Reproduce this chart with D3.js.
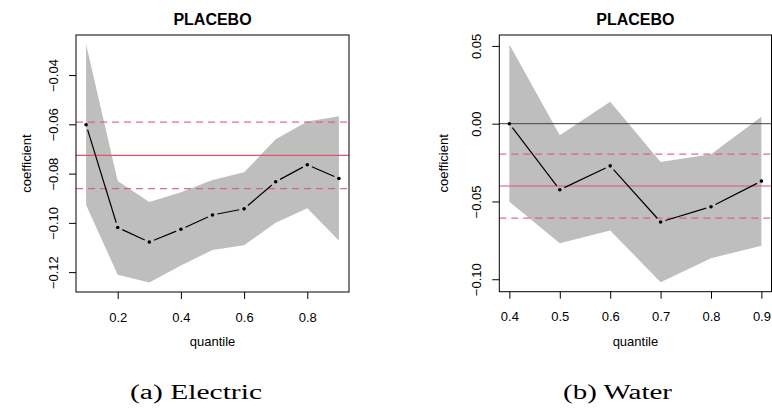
<!DOCTYPE html>
<html lang="en">
<head>
<meta charset="utf-8">
<title>Placebo quantile plots</title>
<script src="https://cdn.jsdelivr.net/npm/d3@7"></script>
<style>
  body { margin: 0; background: #fff; }
  svg text { font-family: "Liberation Sans", Arial, sans-serif; }
</style>
</head>
<body>
<script>
// electric panel
var elecQ = [0.1, 0.2, 0.3, 0.4, 0.5, 0.6, 0.7, 0.8, 0.9];
var elecCoef = [-0.0602, -0.1019, -0.1078, -0.1026, -0.0968, -0.0943, -0.0833, -0.0764, -0.0820];
var elecUpper = [-0.0276, -0.0830, -0.0915, -0.0876, -0.0826, -0.0795, -0.0661, -0.0589, -0.0567];
var elecLower = [-0.0927, -0.1211, -0.1242, -0.1173, -0.1110, -0.1091, -0.1000, -0.0941, -0.1072];
var elecMean = [-0.0726];
var elecBand = [-0.0591, -0.0861];
var elecXTicks = [0.2, 0.4, 0.6, 0.8];
var elecYTicks = [-0.04, -0.06, -0.08, -0.10, -0.12];

// water panel
var waterQ = [0.4, 0.5, 0.6, 0.7, 0.8, 0.9];
var waterCoef = [0.0000, -0.0425, -0.0271, -0.0632, -0.0534, -0.0369];
var waterUpper = [0.0509, -0.0074, 0.0141, -0.0247, -0.0196, 0.0045];
var waterLower = [-0.0502, -0.0769, -0.0686, -0.1019, -0.0865, -0.0784];
var waterMean = [-0.0401];
var waterBand = [-0.0196, -0.0607];
var waterZero = [0];
var waterXTicks = [0.4, 0.5, 0.6, 0.7, 0.8, 0.9];
var waterYTicks = [0.05, 0.00, -0.05, -0.10];

var red = "#DF536B";
var fmt = function(d){ return d3.format(".2f")(d).replace("-", "\u2212"); };

var svg = d3.select("body").append("svg")
  .attr("width", 772)
  .attr("height", 408);

// R style: pad the data range by 4% on each side
function pad(ext) {
  var r = ext[1] - ext[0];
  return [ext[0] - 0.04 * r, ext[1] + 0.04 * r];
}

function drawPanel(p) {
  var x = d3.scaleLinear().domain(pad(d3.extent(p.q))).range([p.left, p.right]);
  var y = d3.scaleLinear()
    .domain(pad([d3.min(p.lower), d3.max(p.upper)]))
    .range([p.bottom, p.top]);

  var g = svg.append("g");

  // confidence band
  var area = d3.area()
    .x(function(d, i){ return x(p.q[i]); })
    .y0(function(d, i){ return y(p.lower[i]); })
    .y1(function(d, i){ return y(p.upper[i]); });
  g.append("path")
    .datum(p.q)
    .attr("d", area)
    .attr("fill", "#BEBEBE");

  // zero line
  g.selectAll(".zero")
    .data(p.zero || [])
    .enter().append("line")
    .attr("x1", p.left).attr("x2", p.right)
    .attr("y1", function(d){ return y(d); })
    .attr("y2", function(d){ return y(d); })
    .attr("stroke", "#444")
    .attr("stroke-width", 1);

  // pooled estimate and its interval
  g.selectAll(".mean")
    .data(p.mean)
    .enter().append("line")
    .attr("x1", p.left).attr("x2", p.right)
    .attr("y1", function(d){ return y(d); })
    .attr("y2", function(d){ return y(d); })
    .attr("stroke", red)
    .attr("stroke-width", 1.1);

  g.selectAll(".band")
    .data(p.band)
    .enter().append("line")
    .attr("x1", p.left).attr("x2", p.right)
    .attr("y1", function(d){ return y(d); })
    .attr("y2", function(d){ return y(d); })
    .attr("stroke", red)
    .attr("stroke-width", 1.3)
    .attr("stroke-opacity", 0.85)
    .attr("stroke-dasharray", "7,5");

  // type = "b": segments with gaps around the points
  var pts = p.q.map(function(d, i){ return [x(d), y(p.coef[i])]; });
  var gap = 5;
  for (var i = 0; i < pts.length - 1; i++) {
    var a = pts[i], b = pts[i + 1];
    var dx = b[0] - a[0], dy = b[1] - a[1];
    var len = Math.sqrt(dx * dx + dy * dy);
    if (len <= 2 * gap) continue;
    var ux = dx / len, uy = dy / len;
    g.append("line")
      .attr("x1", a[0] + ux * gap).attr("y1", a[1] + uy * gap)
      .attr("x2", b[0] - ux * gap).attr("y2", b[1] - uy * gap)
      .attr("stroke", "#000")
      .attr("stroke-width", 1.2);
  }
  g.selectAll(".pt")
    .data(pts)
    .enter().append("circle")
    .attr("cx", function(d){ return d[0]; })
    .attr("cy", function(d){ return d[1]; })
    .attr("r", 1.8)
    .attr("fill", "#000");

  // axes
  var xAxis = d3.axisBottom(x).tickValues(p.xTicks).tickSize(7).tickSizeOuter(0)
    .tickFormat(function(d){ return d3.format(".1f")(d); });
  var gx = g.append("g")
    .attr("transform", "translate(0," + p.bottom + ")")
    .call(xAxis);
  gx.select(".domain").remove();
  gx.selectAll("line").attr("stroke", "#000");
  gx.selectAll("text")
    .attr("y", 29.7).attr("dy", null)
    .attr("font-size", 13).attr("fill", "#000");

  var yAxis = d3.axisLeft(y).tickValues(p.yTicks).tickSize(7).tickSizeOuter(0)
    .tickFormat(fmt);
  var gy = g.append("g")
    .attr("transform", "translate(" + p.left + ",0)")
    .call(yAxis);
  gy.select(".domain").remove();
  gy.selectAll("line").attr("stroke", "#000");
  gy.selectAll("text")
    .attr("transform", "rotate(-90)")
    .attr("x", 0).attr("y", -18).attr("dy", null)
    .attr("text-anchor", "middle")
    .attr("font-size", 13).attr("fill", "#000");

  // box
  g.append("rect")
    .attr("x", p.left).attr("y", p.top)
    .attr("width", p.right - p.left).attr("height", p.bottom - p.top)
    .attr("fill", "none")
    .attr("stroke", "#000")
    .attr("stroke-width", 1);

  var cx = (p.left + p.right) / 2;
  g.append("text")
    .attr("x", cx).attr("y", 25)
    .attr("text-anchor", "middle")
    .attr("font-size", 16).attr("font-weight", "bold")
    .text("PLACEBO");

  g.append("text")
    .attr("x", cx).attr("y", 346)
    .attr("text-anchor", "middle")
    .attr("font-size", 13)
    .text("quantile");

  g.append("text")
    .attr("transform", "translate(" + p.ylabX + "," + ((p.top + p.bottom) / 2) + ") rotate(-90)")
    .attr("text-anchor", "middle")
    .attr("font-size", 13)
    .text("coefficient");

  g.append("text")
    .attr("x", p.capX).attr("y", 399)
    .attr("font-family", "'Liberation Serif', 'DejaVu Serif', serif")
    .style("font-family", "'Liberation Serif', serif")
    .attr("font-size", 20)
    .attr("textLength", p.capW)
    .attr("lengthAdjust", "spacingAndGlyphs")
    .text(p.caption);
}

drawPanel({
  q: elecQ, coef: elecCoef, upper: elecUpper, lower: elecLower,
  mean: elecMean, band: elecBand, xTicks: elecXTicks, yTicks: elecYTicks,
  left: 76, right: 349, top: 35, bottom: 292, ylabX: 30.5,
  caption: "(a) Electric", capX: 130, capW: 132
});

drawPanel({
  q: waterQ, coef: waterCoef, upper: waterUpper, lower: waterLower,
  mean: waterMean, band: waterBand, zero: waterZero,
  xTicks: waterXTicks, yTicks: waterYTicks,
  left: 499.3, right: 771.5, top: 35, bottom: 291.7, ylabX: 447.5,
  caption: "(b) Water", capX: 563, capW: 109
});
</script>
</body>
</html>
